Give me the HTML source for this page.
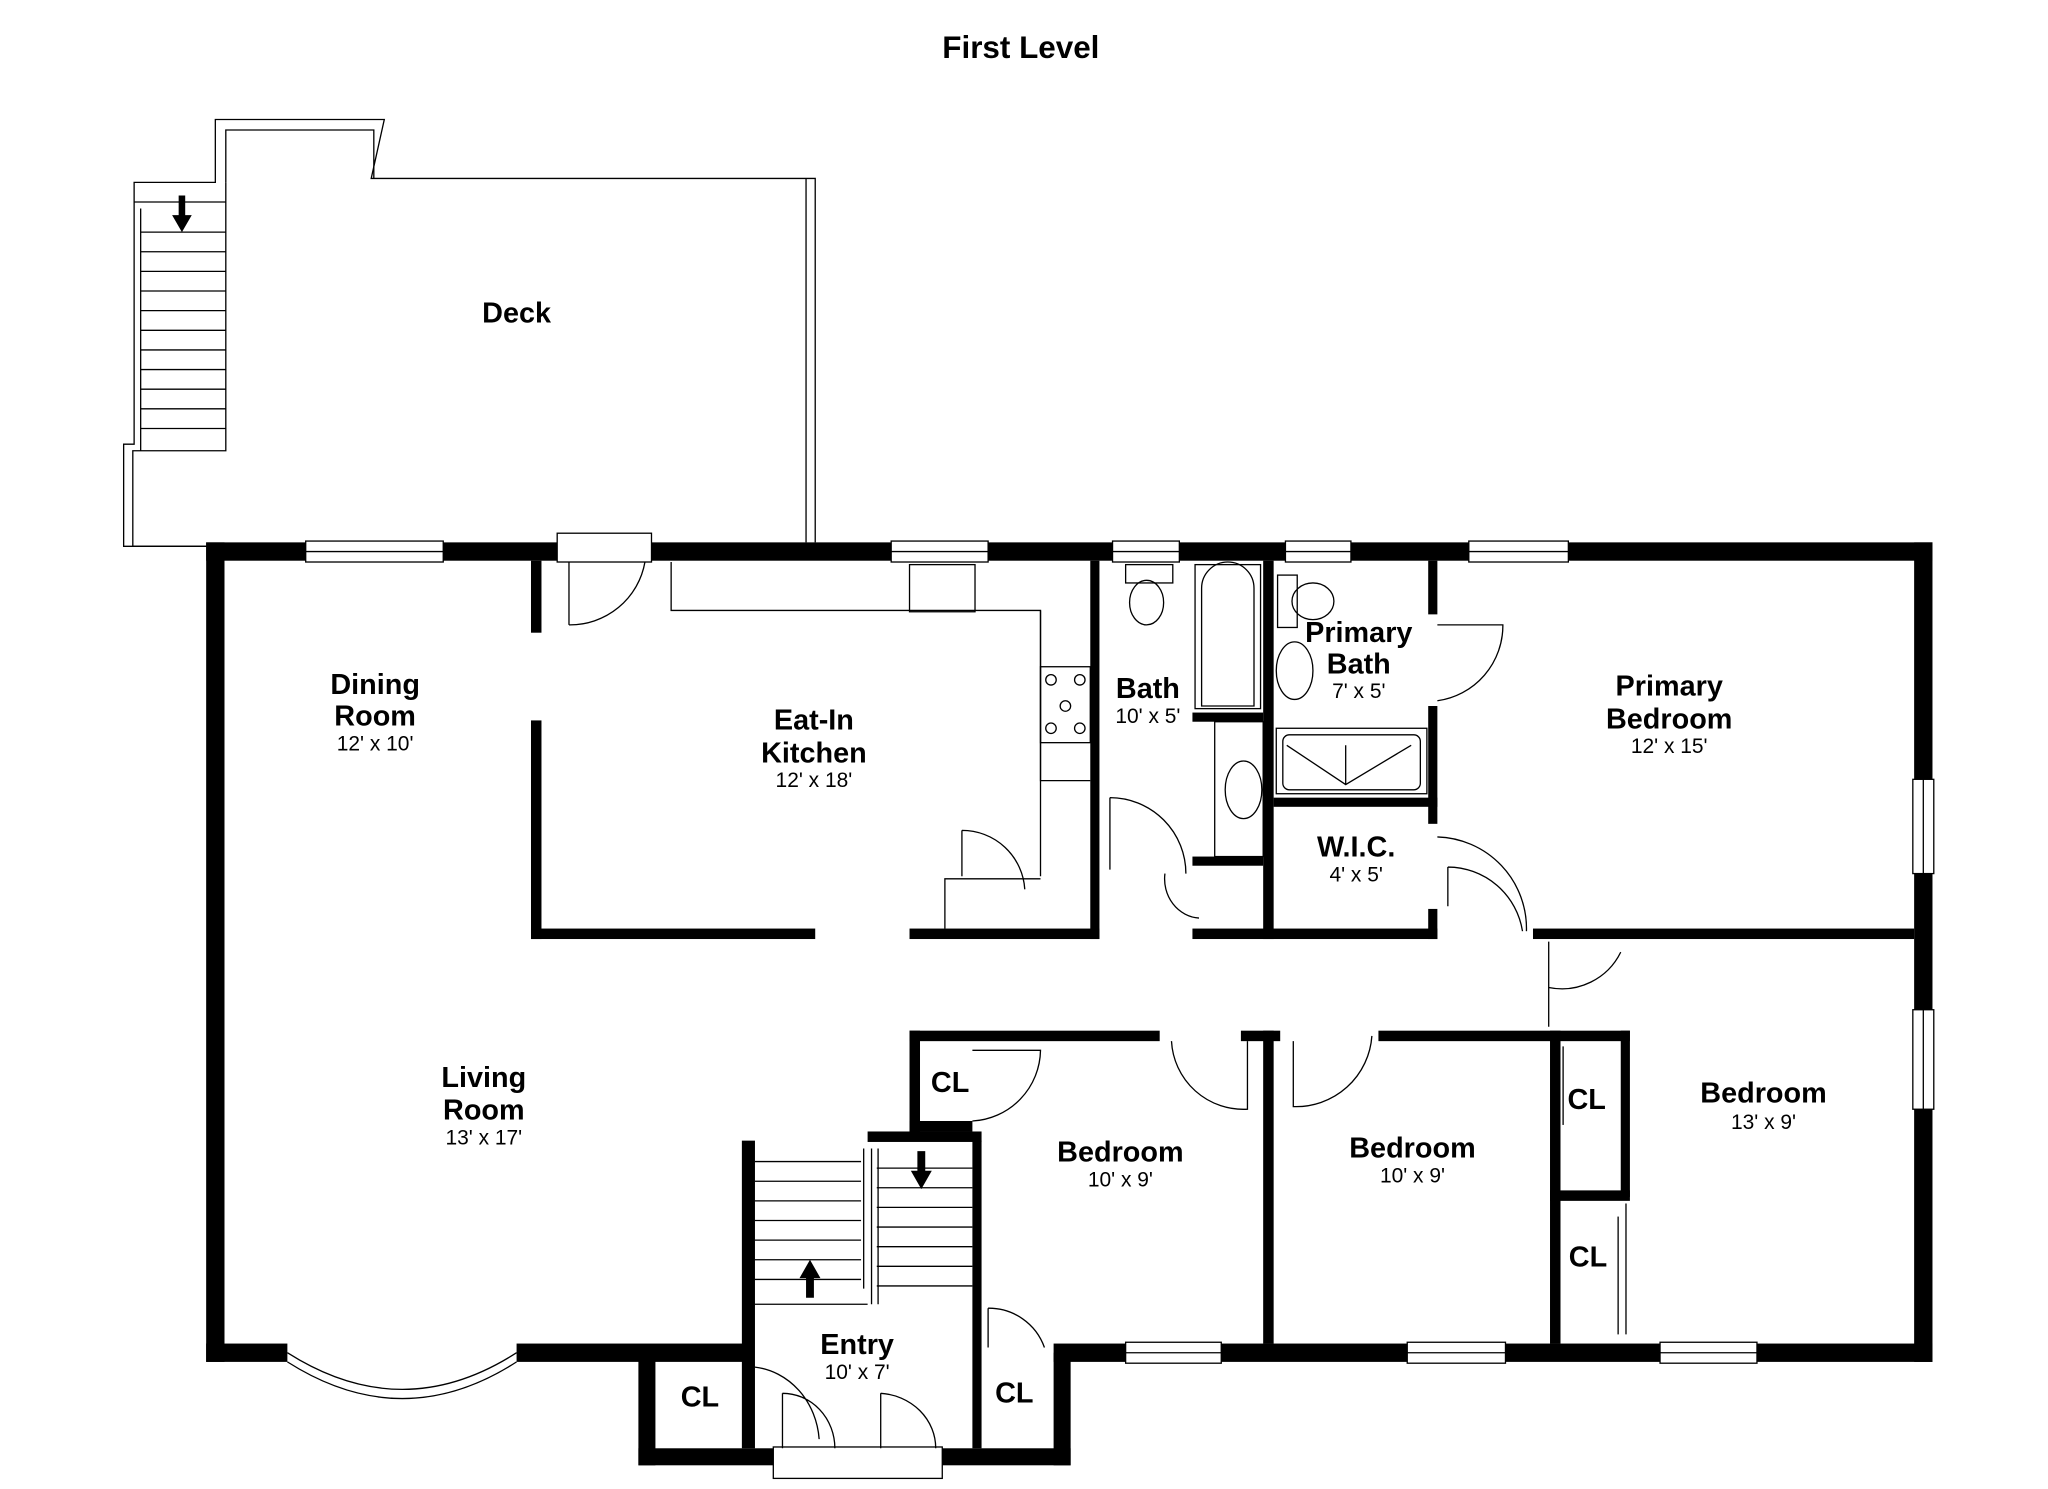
<!DOCTYPE html>
<html><head><meta charset="utf-8"><style>
html,body{margin:0;padding:0;background:#fff;}
svg{display:block;}
text{font-family:"Liberation Sans",Arial,sans-serif;fill:#000;}
.l{font-weight:bold;font-size:22px;text-anchor:middle;}
.d{font-size:16px;text-anchor:middle;}
</style></head><body>
<svg width="2048" height="1489" viewBox="2.6 0.7 1563.6 1137.4" preserveAspectRatio="none" xmlns="http://www.w3.org/2000/svg">
<rect x="0" y="0" width="1570" height="1140" fill="#fff"/>
<text x="782" y="45" class="l" style="font-size:24px">First Level</text>
<g fill="none" stroke="#000" stroke-width="1">
<polyline points="160,418 97,418 97,340 105,340 105,140 167,140 167,92 296,92 286,137 625,137 625,415"/>
<polyline points="167,418 104,418 104,345 175,345 175,140"/>
<polyline points="175,140 175,100 288,100 288,137"/>
<line x1="105" y1="155" x2="175" y2="155"/>
<line x1="618" y1="137" x2="618" y2="415"/>
</g>
<g stroke="#000" stroke-width="1">
<line x1="110" y1="178" x2="175" y2="178"/><line x1="110" y1="193" x2="175" y2="193"/>
<line x1="110" y1="208" x2="175" y2="208"/><line x1="110" y1="223" x2="175" y2="223"/>
<line x1="110" y1="238" x2="175" y2="238"/><line x1="110" y1="253" x2="175" y2="253"/>
<line x1="110" y1="268" x2="175" y2="268"/><line x1="110" y1="283" x2="175" y2="283"/>
<line x1="110" y1="298" x2="175" y2="298"/><line x1="110" y1="313" x2="175" y2="313"/>
<line x1="110" y1="328" x2="175" y2="328"/><line x1="110" y1="160" x2="110" y2="345"/>
</g>
<path d="M139,150 h5 v15 h5 l-7.5,13 l-7.5,-13 h5 z" fill="#000"/>
<text x="397" y="247" class="l">Deck</text>
<g fill="#000">
<rect x="160" y="415" width="1318" height="14"/>
<rect x="160" y="415" width="14" height="626"/>
<rect x="1464" y="415" width="14" height="626"/>
<rect x="160" y="1027" width="62" height="14"/>
<rect x="397" y="1027" width="178" height="14"/>
<rect x="807" y="1027" width="671" height="14"/>
<rect x="490" y="1034" width="13" height="86"/>
<rect x="490" y="1107" width="103" height="13"/>
<rect x="722" y="1107" width="98" height="13"/>
<rect x="807" y="1034" width="13" height="86"/>
<rect x="569" y="872" width="10" height="235"/>
<rect x="745" y="872" width="7" height="235"/>
<rect x="665" y="865" width="87" height="8"/>
<rect x="697" y="788" width="191" height="8"/>
<rect x="950" y="788" width="30" height="8"/>
<rect x="1055" y="788" width="192" height="8"/>
<rect x="697" y="788" width="8" height="77"/>
<rect x="697" y="857" width="48" height="8"/>
<rect x="967" y="788" width="8" height="239"/>
<rect x="1186" y="788" width="8" height="239"/>
<rect x="1240" y="788" width="7" height="127"/>
<rect x="1186" y="910" width="61" height="8"/>
<rect x="408" y="429" width="8" height="55"/>
<rect x="408" y="551" width="8" height="167"/>
<rect x="408" y="710" width="217" height="8"/>
<rect x="697" y="710" width="145" height="8"/>
<rect x="835" y="429" width="7" height="289"/>
<rect x="967" y="429" width="8" height="289"/>
<rect x="913" y="710" width="187" height="8"/>
<rect x="913" y="545" width="54" height="7"/>
<rect x="913" y="655" width="54" height="7"/>
<rect x="975" y="610" width="125" height="7"/>
<rect x="1093" y="429" width="7" height="41"/>
<rect x="1093" y="540" width="7" height="90"/>
<rect x="1093" y="695" width="7" height="23"/>
<rect x="1173" y="710" width="291" height="8"/>
</g>
<g fill="#fff" stroke="#000" stroke-width="1">
<rect x="236" y="414" width="105" height="16"/>
<rect x="683" y="414" width="74" height="16"/>
<rect x="852" y="414" width="51" height="16"/>
<rect x="984" y="414" width="50" height="16"/>
<rect x="1124" y="414" width="76" height="16"/>
<rect x="428" y="408" width="72" height="22"/>
<rect x="1463" y="596" width="16" height="72"/>
<rect x="1463" y="772" width="16" height="76"/>
<rect x="862" y="1026" width="73" height="16"/>
<rect x="1077" y="1026" width="75" height="16"/>
<rect x="1270" y="1026" width="74" height="16"/>
<rect x="593" y="1106" width="129" height="24"/>
</g>
<g fill="none" stroke="#000" stroke-width="1">
<line x1="236" y1="422" x2="341" y2="422"/><line x1="683" y1="422" x2="757" y2="422"/>
<line x1="852" y1="422" x2="903" y2="422"/><line x1="984" y1="422" x2="1034" y2="422"/>
<line x1="1124" y1="422" x2="1200" y2="422"/>
<line x1="1471" y1="596" x2="1471" y2="668"/><line x1="1471" y1="772" x2="1471" y2="848"/>
<line x1="862" y1="1034" x2="935" y2="1034"/><line x1="1077" y1="1034" x2="1152" y2="1034"/>
<line x1="1270" y1="1034" x2="1344" y2="1034"/>
<path d="M222,1034 Q310,1090 397,1034"/><path d="M222,1041 Q310,1097 397,1041"/>
<path d="M437,430 v48 M437,478 A58,58 0 0 0 495,430"/>
<path d="M515,430 v37 h282 v130 h38"/><line x1="797" y1="467" x2="797" y2="670"/>
<rect x="697" y="432" width="50" height="36"/>
<rect x="797" y="510" width="38" height="58"/>
<circle cx="805" cy="520" r="4"/><circle cx="827" cy="520" r="4"/><circle cx="816" cy="540" r="4"/><circle cx="805" cy="557" r="4"/><circle cx="827" cy="557" r="4"/>
<path d="M737,635 v35 M737,635 A48,48 0 0 1 785,680"/><path d="M724,710 v-38 h73"/>
<rect x="862" y="432" width="36" height="14"/><ellipse cx="878" cy="461" rx="13" ry="17"/>
<rect x="915" y="432" width="50" height="110"/><path d="M920,540 v-90 a20,20 0 0 1 40,0 v90 z"/>
<rect x="930" y="552" width="37" height="103"/><ellipse cx="952" cy="604" rx="14" ry="22"/>
<path d="M850,610 v55 M850,610 A58,58 0 0 1 908,668"/>
<path d="M892,668 A28,30 0 0 0 918,702"/>
<ellipse cx="1005" cy="460" rx="16" ry="14"/><rect x="978" y="440" width="15" height="40"/>
<ellipse cx="991" cy="513" rx="14" ry="22"/>
<rect x="977" y="557" width="115" height="50"/><rect x="982" y="562" width="105" height="42" rx="5"/>
<path d="M985,570 L1030,600 L1080,570 M1030,570 v30"/>
<path d="M1100,478 h50 A58,58 0 0 1 1100,536"/>
<path d="M1100,640 A70,70 0 0 1 1168,712 M1108,663 v30 M1108,663 A58,58 0 0 1 1165,712"/>
<path d="M1185,720 v35 A50,50 0 0 0 1240,728 M1185,755 v30"/>
<path d="M745,803 h52 A55,55 0 0 1 745,857"/>
<path d="M897,796 A55,55 0 0 0 955,848 v-52"/>
<path d="M990,796 v50 A58,58 0 0 0 1050,792"/>
<line x1="1190" y1="800" x2="1190" y2="908"/><line x1="1196" y1="800" x2="1196" y2="860"/>
<line x1="1244" y1="920" x2="1244" y2="1020"/><line x1="1238" y1="930" x2="1238" y2="1020"/>
<path d="M757,1000 v30 M757,1000 A45,45 0 0 1 800,1030"/>
<path d="M579,1045 A55,60 0 0 1 628,1100 M600,1065 v42 M675,1065 v42 M675,1065 A45,42 0 0 1 717,1107 M600,1065 A40,42 0 0 1 640,1107"/>
<g>
<line x1="579" y1="888" x2="660" y2="888"/><line x1="579" y1="903" x2="660" y2="903"/>
<line x1="579" y1="918" x2="660" y2="918"/><line x1="579" y1="933" x2="660" y2="933"/>
<line x1="579" y1="948" x2="660" y2="948"/><line x1="579" y1="963" x2="660" y2="963"/>
<line x1="579" y1="978" x2="660" y2="978"/><line x1="579" y1="997" x2="665" y2="997"/>
<line x1="672" y1="893" x2="745" y2="893"/><line x1="672" y1="908" x2="745" y2="908"/>
<line x1="672" y1="923" x2="745" y2="923"/><line x1="672" y1="938" x2="745" y2="938"/>
<line x1="672" y1="953" x2="745" y2="953"/><line x1="672" y1="968" x2="745" y2="968"/>
<line x1="672" y1="983" x2="745" y2="983"/>
<line x1="662" y1="878" x2="662" y2="985"/><line x1="668" y1="878" x2="668" y2="997"/><line x1="673" y1="878" x2="673" y2="997"/>
</g>
</g>
<path d="M618,992 h6 v-15 h5 l-8,-14 l-8,14 h5 z" fill="#000"/>
<path d="M703,880 h6 v15 h5 l-8,14 l-8,-14 h5 z" fill="#000"/>
<text x="289" y="531" class="l">Dining</text><text x="289" y="555" class="l">Room</text><text x="289" y="574" class="d">12' x 10'</text>
<text x="624" y="558" class="l">Eat-In</text><text x="624" y="583" class="l">Kitchen</text><text x="624" y="602" class="d">12' x 18'</text>
<text x="879" y="534" class="l">Bath</text><text x="879" y="553" class="d">10' x 5'</text>
<text x="1040" y="491" class="l">Primary</text><text x="1040" y="515" class="l">Bath</text><text x="1040" y="534" class="d">7' x 5'</text>
<text x="1277" y="532" class="l">Primary</text><text x="1277" y="557" class="l">Bedroom</text><text x="1277" y="576" class="d">12' x 15'</text>
<text x="1038" y="655" class="l">W.I.C.</text><text x="1038" y="674" class="d">4' x 5'</text>
<text x="372" y="831" class="l">Living</text><text x="372" y="856" class="l">Room</text><text x="372" y="875" class="d">13' x 17'</text>
<text x="728" y="835" class="l">CL</text>
<text x="858" y="888" class="l">Bedroom</text><text x="858" y="907" class="d">10' x 9'</text>
<text x="1081" y="885" class="l">Bedroom</text><text x="1081" y="904" class="d">10' x 9'</text>
<text x="1214" y="848" class="l">CL</text><text x="1215" y="968" class="l">CL</text>
<text x="1349" y="843" class="l">Bedroom</text><text x="1349" y="863" class="d">13' x 9'</text>
<text x="657" y="1035" class="l">Entry</text><text x="657" y="1054" class="d">10' x 7'</text>
<text x="537" y="1075" class="l">CL</text><text x="777" y="1072" class="l">CL</text>
</svg>
</body></html>
